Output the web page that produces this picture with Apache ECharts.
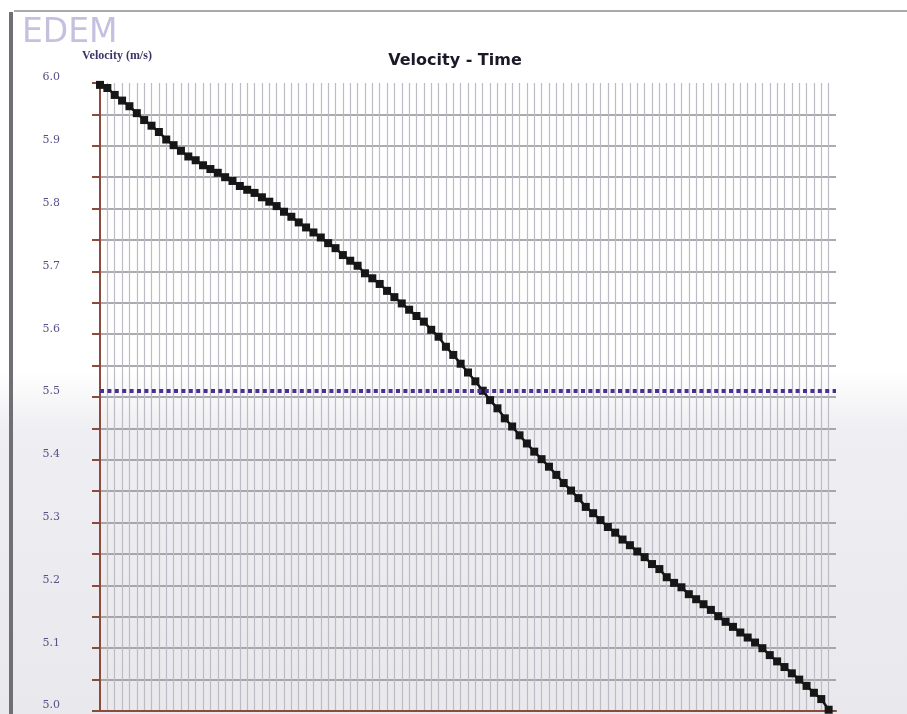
<!DOCTYPE html>
<html>
<head>
<meta charset="utf-8">
<title>Velocity - Time</title>
<script src="https://cdn.jsdelivr.net/npm/echarts@6/dist/echarts.min.js"></script>
<style>
  html, body { margin: 0; padding: 0; background: #ffffff; }
  #chart { width: 907px; height: 714px; }
</style>
</head>
<body>
<div id="chart"></div>
<script>
// Sample index (time step) for each recorded velocity
const timeSteps = Array.from({ length: 100 }, (_, i) => i);

// Recorded velocity (m/s) per time step
const velocity = [
  5.997, 5.992, 5.981, 5.972, 5.963, 5.952, 5.941, 5.932, 5.922, 5.910,
  5.901, 5.892, 5.883, 5.877, 5.869, 5.863, 5.857, 5.850, 5.844, 5.836,
  5.830, 5.825, 5.818, 5.811, 5.804, 5.795, 5.787, 5.778, 5.770, 5.762,
  5.754, 5.745, 5.737, 5.726, 5.717, 5.709, 5.697, 5.689, 5.680, 5.669,
  5.659, 5.649, 5.639, 5.629, 5.620, 5.607, 5.596, 5.580, 5.567, 5.553,
  5.539, 5.525, 5.510, 5.495, 5.482, 5.466, 5.453, 5.439, 5.426, 5.413,
  5.401, 5.389, 5.376, 5.363, 5.351, 5.339, 5.325, 5.315, 5.304, 5.293,
  5.284, 5.273, 5.264, 5.254, 5.245, 5.234, 5.226, 5.213, 5.204, 5.197,
  5.186, 5.178, 5.170, 5.161, 5.151, 5.142, 5.134, 5.125, 5.117, 5.109,
  5.100, 5.089, 5.079, 5.070, 5.060, 5.050, 5.040, 5.029, 5.019, 5.002
];

// Reference velocity level drawn as a dotted line
const thresholdVelocity = 5.514;

// Y axis range and labelled step
const yMin = 5.0;
const yMax = 6.0;
const yStep = 0.1;

const chart = echarts.init(document.getElementById('chart'));

const brown = '#8b4a3c';

chart.setOption({
  animation: false,
  backgroundColor: {
    type: 'linear', x: 0, y: 0, x2: 0, y2: 1,
    colorStops: [
      { offset: 0, color: '#ffffff' },
      { offset: 0.52, color: '#ffffff' },
      { offset: 0.6, color: '#efeef2' },
      { offset: 1, color: '#e9e8ec' }
    ]
  },
  grid: { left: 100, top: 83, width: 736, height: 628, containLabel: false },
  graphic: [
    { type: 'rect', shape: { x: 9, y: 12, width: 4, height: 702 }, style: { fill: '#6f6f74' } },
    { type: 'line', shape: { x1: 14, y1: 11, x2: 907, y2: 11 }, style: { stroke: '#8d8d92', lineWidth: 1.5 } },
    { type: 'text', x: 22, y: 17, style: { text: 'EDEM', fill: '#c6c0e0', font: '33px "DejaVu Sans"' } },
    { type: 'text', x: 82, y: 50, style: { text: 'Velocity (m/s)', fill: '#3d3266', font: 'bold 12px "Liberation Serif"' } },
    { type: 'text', x: 455, y: 61, style: { text: 'Velocity - Time', fill: '#1c1828', font: 'bold 16px "DejaVu Sans"', align: 'center', verticalAlign: 'middle' } }
  ],
  xAxis: {
    type: 'value',
    min: 0,
    max: 100,
    interval: 1,
    axisLine: { show: true, lineStyle: { color: brown, width: 2 } },
    axisTick: { show: false },
    axisLabel: { show: false },
    splitLine: {
      show: true,
      showMinLine: false,
      showMaxLine: false,
      lineStyle: { color: '#bdbcc4', width: 1.2 }
    }
  },
  yAxis: {
    type: 'value',
    min: yMin,
    max: yMax,
    interval: yStep,
    axisLine: { show: true, onZero: false, lineStyle: { color: brown, width: 2 } },
    axisTick: { show: true, length: 8, lineStyle: { color: brown, width: 2 } },
    minorTick: { show: true, splitNumber: 2, length: 8, lineStyle: { color: brown, width: 2 } },
    axisLabel: {
      margin: 40,
      fontSize: 11,
      fontFamily: '"DejaVu Serif"',
      color: '#5b4f86',
      verticalAlign: 'bottom',
      formatter: v => v.toFixed(1)
    },
    splitLine: {
      show: true,
      showMaxLine: false,
      lineStyle: { color: '#8f8f96', width: 1.5 }
    },
    minorSplitLine: { show: true, lineStyle: { color: '#8f8f96', width: 1.5 } }
  },
  series: [
    {
      name: 'Velocity',
      type: 'line',
      data: timeSteps.map((t, i) => [t, velocity[i]]),
      symbol: 'rect',
      symbolSize: 8,
      showAllSymbol: true,
      itemStyle: { color: '#161616' },
      lineStyle: { color: '#161616', width: 2.5 },
      z: 3,
      markLine: {
        silent: true,
        symbol: 'none',
        label: { show: false },
        lineStyle: { color: '#4a2f93', width: 4, type: [4, 3.4], cap: 'butt' },
        data: [{ yAxis: thresholdVelocity }]
      }
    }
  ]
});
</script>
</body>
</html>
